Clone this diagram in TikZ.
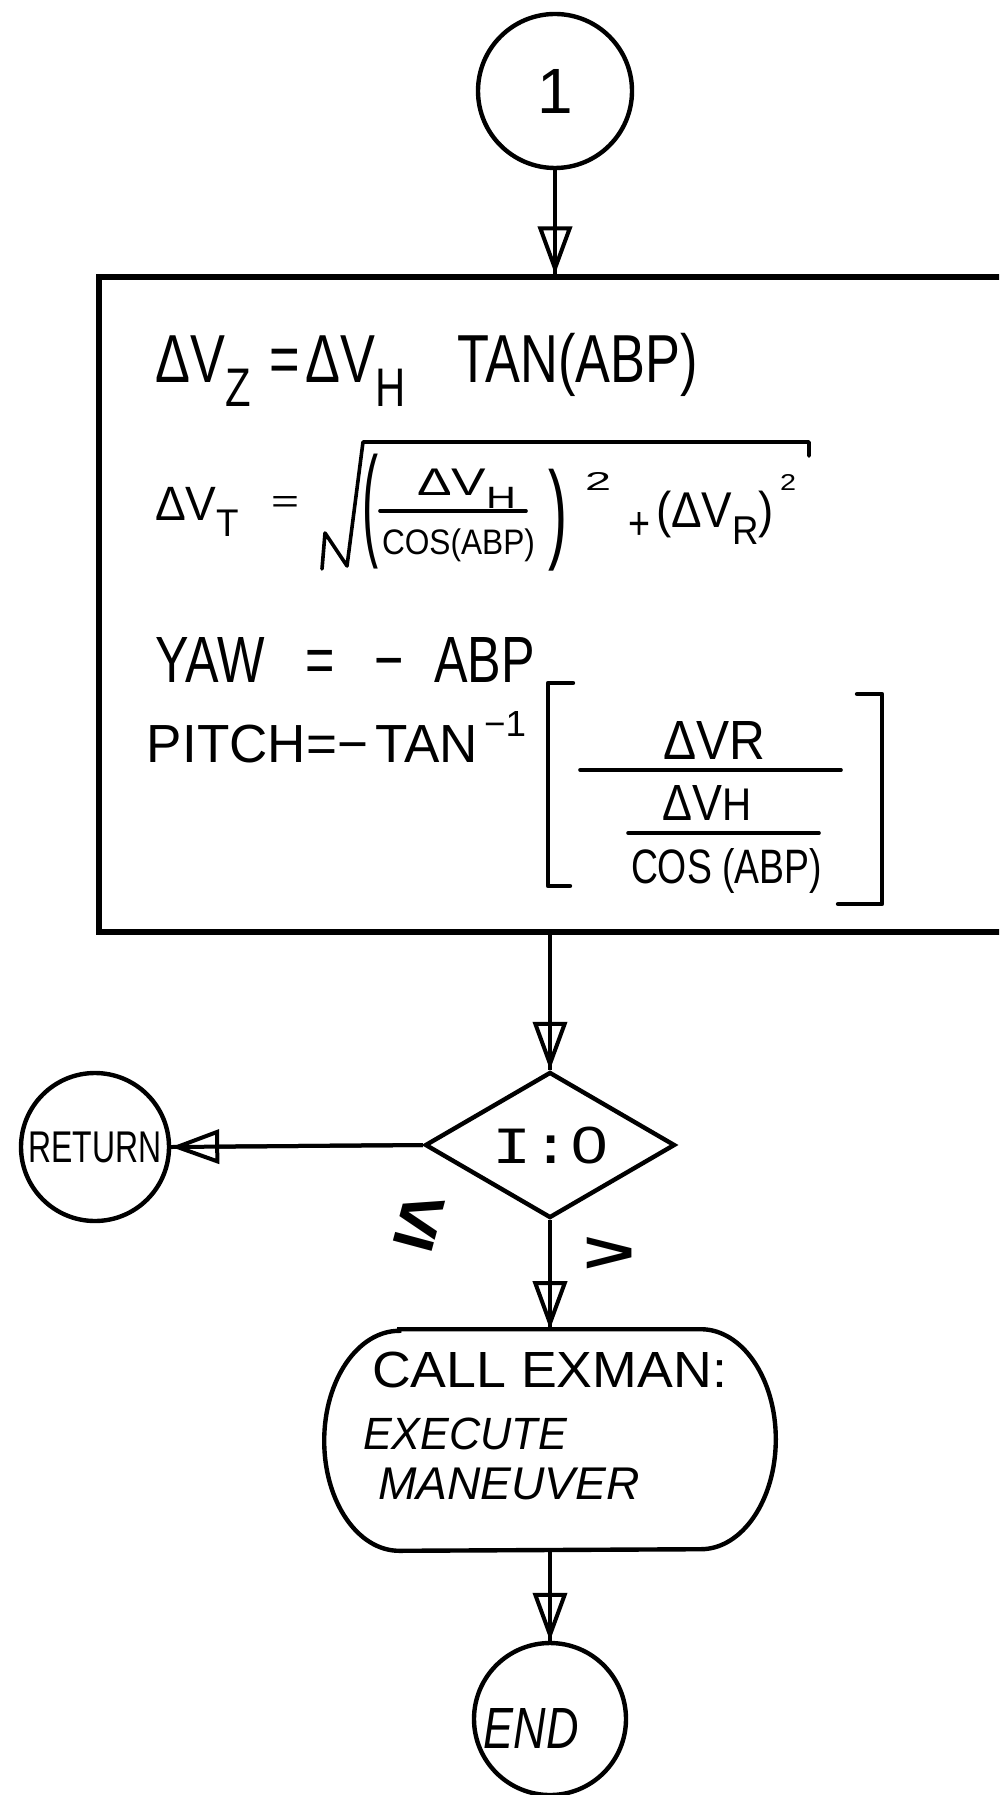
\documentclass[tikz,border=0pt]{standalone}
\usepackage{fontspec}
\usepackage{graphicx}
\setmainfont{Liberation Sans}
\setmonofont{Liberation Mono}
\usetikzlibrary{shapes.geometric,arrows.meta}

\tikzset{
  conn/.style={line width=1pt},
  tipline/.style={line width=1pt, -{Triangle[open,length=12pt,width=8.5pt]}},
  circ/.style={draw, circle, line width=1.1pt, inner sep=0pt},
  calcbox/.style={draw, rectangle, line width=1.3pt, minimum width=232.75pt, minimum height=163.75pt},
  decision/.style={draw, diamond, aspect=1.71, line width=1.1pt, inner sep=0pt,
                   minimum width=62.5pt, minimum height=36.5pt},
  terminal/.style={rectangle, minimum width=112.5pt, minimum height=55pt},
  outline/.style={line width=1.1pt},
  pen/.style={line width=0.9pt, line join=round, line cap=round},
  txt/.style={inner sep=0pt, outer sep=0pt},
}
% straight connector whose line runs through an open arrowhead
\newcommand\flowto[2]{\draw[conn] #1 -- #2; \draw[tipline] #1 -- #2;}
% lowered subscript in running text
\newcommand\lsub[1]{\raisebox{-0.35em}{\footnotesize #1}}
% text squeezed into a given width and total height
\newcommand\fit[3]{\resizebox*{#1}{#2}{#3}}

\begin{document}
\begin{tikzpicture}[x=0.25pt,y=0.25pt]
\clip (0,0) rectangle (999,-1795);
\fill[white] (0,0) rectangle (999,-1795);

% entry connector
\node[circ, minimum size=38.5pt] (c1) at (555,-91) {\fontsize{16}{16}\selectfont 1};

% computation block
\node[calcbox] (calc) at (564.5,-604.5) {};

% first line
\node[txt] (eqz) at (427,-370)
  {\fit{135.5pt}{18.25pt}{ΔV\lsub{Z}\hspace{0.35em}=\hspace{0.1em}ΔV\lsub{H}\hspace{1em}TAN(ABP)}};

% second line, set piece by piece under a hand-drawn radical
\node[txt] (vt)    at (197,-512) {\fit{21pt}{12.5pt}{ΔV\lsub{T}}};
\node[txt] (eqs)   at (285,-505) {\fit{7pt}{4pt}{=}};
\draw[pen] (322,-569) -- (325,-533) -- (347,-566) -- (363,-442) -- (809,-442) -- (809,-456);
\node[txt] (lp)    at (370,-512)   {\fit{4pt}{28.75pt}{(}};
\node[txt] (num)   at (466.5,-489) {\fit{24.75pt}{10pt}{ΔV\lsub{H}}};
\draw[pen] (380,-511) -- (526,-511);
\node[txt] (den)   at (458.5,-545.5) {\fit{38.25pt}{8.25pt}{COS(ABP)}};
\node[txt] (rp)    at (557.5,-520) {\fit{4.75pt}{25.5pt}{)}};
\node[txt] (sq1)   at (598,-482)   {\fit{6.5pt}{4.5pt}{2}};
\node[txt] (plus)  at (639,-526.5) {\fit{5.5pt}{6.75pt}{+}};
\node[txt] (vr)    at (715,-518)   {\fit{29.5pt}{13.5pt}{(ΔV\lsub{R})}};
\node[txt] (sq2)   at (788,-483)   {\fit{4pt}{4pt}{2}};

% yaw
\node[txt] (eqyaw) at (345.5,-660.5)
  {\fit{94.75pt}{11.25pt}{YAW\hspace{0.8em}=\hspace{0.8em}−\hspace{0.6em}ABP}};

% pitch, with the bracketed compound fraction
\node[txt] (eqpitch) at (312.5,-744) {\fit{82.75pt}{9.5pt}{PITCH=−\hspace{0.15em}TAN}};
\node[txt] (inv)     at (505,-724)   {\fit{10.5pt}{6.25pt}{−1}};
\draw[pen, line width=1.1pt] (573,-683) -- (548,-683) -- (548,-886) -- (570,-886);
\draw[pen, line width=1.1pt] (857,-694) -- (882,-694) -- (882,-904) -- (838,-904);
\node[txt] (pnum)  at (714,-740)   {\fit{25.5pt}{9.5pt}{ΔVR}};
\draw[pen] (580,-770) -- (841,-770);
\node[txt] (pnum2) at (707,-803)   {\fit{22.25pt}{8.75pt}{ΔV{\small H}}};
\draw[pen] (628,-833) -- (819,-833);
\node[txt] (pden)  at (726.5,-870.5) {\fit{47.75pt}{11.25pt}{COS (ABP)}};

% decision
\node[decision] (dia) at (550,-1145)
  {\fit{28.75pt}{9.25pt}{{\ttfamily I:}0}};
\node[circ, minimum size=37pt] (ret) at (95,-1147)
  {\fit{33.25pt}{7.75pt}{RETURN}};
\node[txt, rotate=-15] (le) at (419,-1221) {\fit{11pt}{13pt}{\bfseries ≤}};
\node[txt] (gt) at (609,-1255) {\fit{13pt}{8.75pt}{\bfseries >}};

% maneuver call: flat top and bottom, elliptic ends
\node[terminal] (term) at (550,-1440) {};
\draw[outline] ([xshift=18.75pt]term.north west) -- ([xshift=-18.75pt]term.north east)
  arc[start angle=90, end angle=-90, x radius=18.75pt, y radius=27.5pt]
  -- ([xshift=18.75pt]term.south west)
  arc[start angle=270, end angle=90, x radius=18.75pt, y radius=27.5pt] -- cycle;
\node[txt] (tl1) at (549.5,-1370) {\fit{88.75pt}{9pt}{CALL EXMAN:}};
\node[txt] (tl2) at (465,-1434) {\fit{51pt}{8pt}{\itshape EXECUTE}};
\node[txt] (tl3) at (509,-1484) {\fit{65.5pt}{8pt}{\itshape MANEUVER}};

% end
\node[circ, minimum size=38pt] (endc) at (550,-1719) {};
\node[txt] (endt) at (531,-1728) {\fit{23.75pt}{10pt}{\itshape END}};

% connectors
\flowto{(c1.south)}{(c1.south |- calc.north)}
\flowto{(dia.north |- calc.south)}{(dia.north)}
\flowto{(dia.west)}{(ret.east)}
\flowto{(dia.south)}{(term.north)}
\flowto{(term.south)}{(endc.north)}
\end{tikzpicture}
\end{document}
